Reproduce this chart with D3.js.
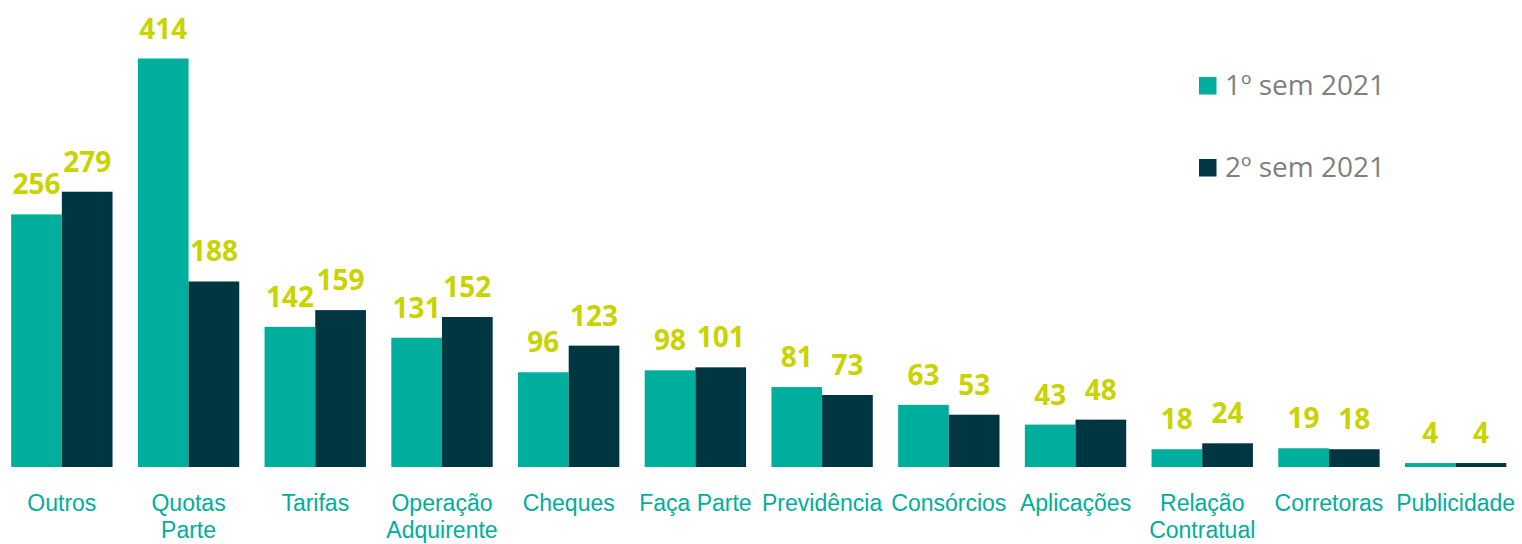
<!DOCTYPE html>
<html>
<head>
<meta charset="utf-8">
<script src="https://cdn.jsdelivr.net/npm/d3@7"></script>
<style>
  html, body { margin: 0; padding: 0; background: #fff; }
  svg { display: block; font-family: "Open Sans", sans-serif; }
</style>
</head>
<body>
<svg id="chart" width="1522" height="544"></svg>
<script>
const categories = ["Outros", "Quotas\nParte", "Tarifas", "Operação\nAdquirente", "Cheques", "Faça Parte",
  "Previdência", "Consórcios", "Aplicações", "Relação\nContratual", "Corretoras", "Publicidade"];
const seriesNames = ["1º sem 2021", "2º sem 2021"];
const sem1 = [256, 414, 142, 131, 96, 98, 81, 63, 43, 18, 19, 4];
const sem2 = [279, 188, 159, 152, 123, 101, 73, 53, 48, 24, 18, 4];
const colors = ["#00AE9D", "#003641"];

const svg = d3.select("#chart");
const baseY = 467;

const x = d3.scaleBand()
    .domain(d3.range(categories.length))
    .range([-1.5, 1519])
    .paddingInner(0.2)
    .paddingOuter(0.1);

const xSub = d3.scaleBand()
    .domain([0, 1])
    .range([0, x.bandwidth()]);

const y = d3.scaleLinear()
    .domain([0, 414])
    .range([baseY, 58.5]);

const series = [sem1, sem2];

// bars + value labels
series.forEach(function (vals, s) {
  const g = svg.append("g");
  g.selectAll("rect")
      .data(vals)
      .join("rect")
      .attr("x", (d, i) => x(i) + xSub(s))
      .attr("y", d => y(d))
      .attr("width", xSub.bandwidth())
      .attr("height", d => baseY - y(d))
      .attr("fill", colors[s]);
  g.selectAll("text")
      .data(vals)
      .join("text")
      .attr("x", (d, i) => x(i) + xSub(s) + xSub.bandwidth() / 2)
      .attr("y", d => y(d) - 20)
      .attr("text-anchor", "middle")
      .attr("font-size", 28)
      .attr("font-weight", "bold")
      .attr("fill", "#C9D300")
      .text(d => d);
});

// category axis
const axis = svg.append("g")
    .attr("transform", "translate(0," + baseY + ")")
    .call(d3.axisBottom(x).tickSize(0).tickFormat(""));
axis.select(".domain").remove();
axis.selectAll(".tick").each(function (d) {
  const lines = categories[d].split("\n");
  const t = d3.select(this).append("text")
      .attr("text-anchor", "middle")
      .attr("font-size", 23)
      .attr("fill", "#00AE9D");
  lines.forEach(function (line, k) {
    t.append("tspan")
        .attr("x", 0)
        .attr("y", 44 + k * 27)
        .text(line);
  });
});

// legend
const legend = svg.append("g");
seriesNames.forEach(function (name, s) {
  const row = legend.append("g")
      .attr("transform", "translate(1199," + (77 + s * 82) + ")");
  row.append("rect")
      .attr("width", 17.5)
      .attr("height", 17.5)
      .attr("fill", colors[s]);
  row.append("text")
      .attr("x", 26)
      .attr("y", 18)
      .attr("font-size", 28)
      .attr("fill", "#808080")
      .text(name);
});
</script>
</body>
</html>
